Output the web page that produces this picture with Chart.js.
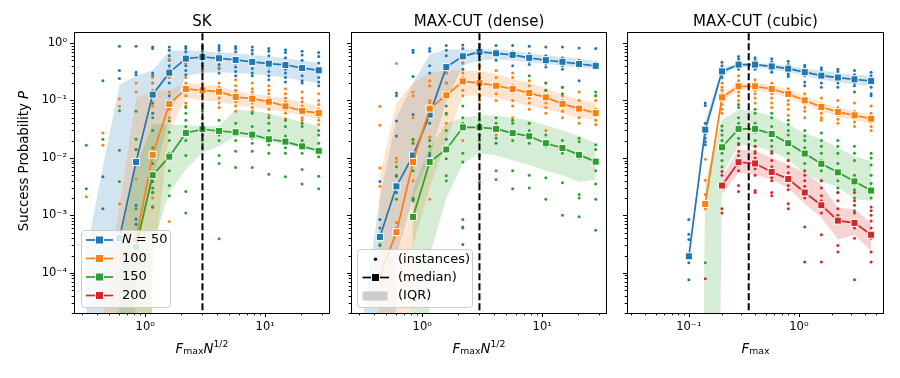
<!DOCTYPE html>
<html>
<head>
<meta charset="utf-8">
<script src="https://cdn.jsdelivr.net/npm/chart.js@4.4.1/dist/chart.umd.min.js"></script>
<style>
  html, body { margin: 0; padding: 0; background: #fff; }
  #wrap { position: relative; width: 900px; height: 378px; }
  #wrap canvas { position: absolute; left: 0; top: 0; }
</style>
</head>
<body>
<div id="wrap">
  <canvas id="skChart" width="900" height="378"></canvas>
  <canvas id="denseChart" width="900" height="378"></canvas>
  <canvas id="cubicChart" width="900" height="378"></canvas>
</div>
<script>
// ---- data ----
const seriesNames = ['N = 50', '100', '150', '200'];
const colors = ['#1f77b4', '#ff7f0e', '#2ca02c', '#d62728'];

const yMajor = [1e-4, 1e-3, 1e-2, 1e-1, 1];
const yLabels = ['10⁻⁴', '10⁻³', '10⁻²', '10⁻¹', '10⁰'];
const scaledXMajor = [1, 10];
const scaledXLabels = ['10⁰', '10¹'];
const cubicXMajor = [0.1, 1];
const cubicXLabels = ['10⁻¹', '10⁰'];

// SK
const skX = [0.323, 0.444, 0.61, 0.839, 1.154, 1.587, 2.18, 3.0, 4.125, 5.67, 7.8, 10.72, 14.74, 20.3, 27.9];
const skVline = 3.0;
const skMedian = [
  [null, null, 4e-4, 0.0085, 0.126, 0.304, 0.533, 0.57, 0.54, 0.506, 0.468, 0.436, 0.414, 0.367, 0.334],
  [null, null, null, 3.8e-4, 0.0113, 0.087, 0.158, 0.15, 0.142, 0.115, 0.107, 0.095, 0.079, 0.066, 0.06],
  [null, null, null, 2.8e-4, 0.005, 0.0105, 0.0272, 0.0315, 0.0294, 0.0279, 0.0254, 0.0211, 0.0192, 0.0159, 0.0133],
  []
];
const skQ3 = [
  [2.3e-4, 0.007, 0.186, 0.27, 0.33, 0.72, 0.75, 0.72, 0.69, 0.66, 0.62, 0.58, 0.54, 0.49, 0.45],
  [0, 1.5e-5, 1.5e-3, 0.11, 0.146, 0.15, 0.2, 0.19, 0.18, 0.146, 0.128, 0.12, 0.107, 0.093, 0.08],
  [0, 0, 3e-4, 0.007, 0.039, 0.038, 0.037, 0.036, 0.036, 0.07, 0.065, 0.06, 0.05, 0.042, 0.036],
  []
];
const skQ1 = [
  [0, 0, 0, 3e-4, 0.004, 0.05, 0.27, 0.3, 0.31, 0.3, 0.29, 0.27, 0.25, 0.22, 0.2],
  [0, 0, 0, 0, 1e-4, 0.03, 0.11, 0.1, 0.095, 0.083, 0.077, 0.07, 0.062, 0.054, 0.048],
  [0, 0, 0, 0, 3e-4, 0.0025, 0.0063, 0.0124, 0.016, 0.024, 0.022, 0.019, 0.017, 0.015, 0.013],
  []
];
const skDots = [
  [[0.0029],[0.22,0.0047,0.0013],[0.88,0.33,0.24],[0.88,0.31,0.28,0.014,0.0015,8.6e-4,7e-4],[0.85,0.8,0.3,0.27,0.2,0.13,0.06,0.0039,0.0025,0.0014],[0.85,0.75,0.6,0.5,0.4,0.35,0.3,0.2,0.12],[0.87,0.8,0.7,0.6,0.5,0.45,0.4,0.33,0.28],[0.88,0.8,0.72,0.62,0.55,0.45,0.4,0.32],[0.9,0.82,0.75,0.62,0.5,0.42,0.36,0.3],[0.87,0.8,0.7,0.55,0.45,0.38,0.32,0.27],[0.85,0.75,0.65,0.5,0.42,0.36,0.3,0.27],[0.8,0.72,0.6,0.45,0.38,0.32,0.27,0.23],[0.76,0.68,0.55,0.42,0.35,0.3,0.25,0.21],[0.72,0.62,0.5,0.4,0.33,0.27,0.22,0.2],[0.68,0.58,0.45,0.36,0.3,0.25,0.21,0.18]],
  [[0.0021],[0.027,0.0166],[0.107,0.079,0.0016],[0.2,0.14,0.0043,4e-4],[0.25,0.2,0.15,0.08,0.03,0.005,0.002],[0.52,0.35,0.25,0.14,0.1,0.07,0.05,7.8e-4],[0.45,0.25,0.2,0.17,0.14,0.12,0.09,0.08],[0.4,0.3,0.2,0.17,0.15,0.12,0.09,0.08],[0.38,0.2,0.17,0.15,0.13,0.11,0.09,0.075],[0.23,0.18,0.15,0.13,0.11,0.095,0.08,0.065],[0.2,0.16,0.14,0.12,0.1,0.09,0.075,0.065],[0.18,0.15,0.13,0.11,0.095,0.085,0.07,0.055],[0.16,0.13,0.11,0.095,0.08,0.07,0.06,0.048],[0.14,0.11,0.095,0.08,0.07,0.06,0.05,0.045],[0.13,0.1,0.085,0.07,0.06,0.052,0.045,0.038]],
  [[0.0166],[0.021],[0.066,0.0136,0.0039],[0.065,0.021,0.014,0.0013],[0.09,0.05,0.03,0.015,0.008,0.005,0.003,0.0025,0.0014],[0.044,0.028,0.02,0.012,0.0105,0.006,0.0033,0.0022],[0.075,0.06,0.045,0.035,0.027,0.02,0.011,0.0026,0.0011],[0.065,0.05,0.04,0.032,0.025,0.02,0.015],[0.045,0.03,0.025,0.02,0.011,0.008,3.9e-4],[0.04,0.03,0.025,0.02,0.013,0.0068],[0.06,0.035,0.028,0.022,0.018,0.013,0.0068],[0.05,0.04,0.03,0.022,0.017,0.012,0.0052],[0.045,0.035,0.024,0.018,0.015,0.012,0.0047],[0.04,0.035,0.02,0.015,0.012,0.0063,0.0035],[0.03,0.025,0.018,0.013,0.0105,0.0048,0.0029]],
  []
];

// MAX-CUT (dense)
const denseX = [0.323, 0.444, 0.61, 0.839, 1.154, 1.587, 2.18, 3.0, 4.125, 5.67, 7.8, 10.72, 14.74, 20.3, 27.9];
const denseVline = 3.0;
const denseMedian = [
  [null, 4.2e-4, 0.0032, 0.011, 0.0566, 0.38, 0.585, 0.70, 0.66, 0.62, 0.55, 0.50, 0.47, 0.43, 0.40],
  [null, 9e-5, 5.1e-4, 0.0085, 0.072, 0.123, 0.215, 0.20, 0.18, 0.158, 0.135, 0.113, 0.087, 0.072, 0.06],
  [null, null, null, 9.4e-4, 0.0085, 0.014, 0.034, 0.034, 0.032, 0.027, 0.0238, 0.018, 0.0149, 0.0113, 0.0086],
  []
];
const denseQ3 = [
  [2e-5, 0.002, 0.05, 0.2, 0.63, 0.77, 0.78, 0.77, 0.76, 0.73, 0.66, 0.61, 0.57, 0.53, 0.49],
  [0, 0.005, 0.09, 0.2, 0.3, 0.33, 0.33, 0.32, 0.29, 0.236, 0.2, 0.165, 0.126, 0.103, 0.09],
  [0, 0, 0, 0.003, 0.015, 0.04, 0.05, 0.056, 0.054, 0.05, 0.045, 0.037, 0.03, 0.024, 0.018],
  []
];
const denseQ1 = [
  [0, 0, 2e-4, 0.002, 0.01, 0.1, 0.4, 0.5, 0.52, 0.5, 0.46, 0.43, 0.4, 0.37, 0.357],
  [0, 0, 0, 3e-4, 0.003, 0.02, 0.12, 0.12, 0.11, 0.095, 0.08, 0.07, 0.06, 0.05, 0.046],
  [0, 0, 0, 0, 2e-4, 0.002, 0.008, 0.012, 0.011, 0.009, 0.0075, 0.006, 0.005, 0.0038, 0.0042],
  []
];
const denseDots = [
  [[],[0.0039,8.5e-4,6e-4,3e-4],[0.135,0.12,0.044,0.024,0.0048,0.0025],[0.75,0.68,0.26,0.057,0.011,0.0019],[0.8,0.72,0.4,0.3,0.06,0.04,0.011],[0.9,0.75,0.6,0.38,0.3,0.2,0.021],[0.92,0.8,0.65,0.55,0.45,0.35,6.3e-4,3.1e-4],[0.95,0.85,0.75,0.68,0.6,0.5,0.011],[0.9,0.75,0.68,0.6,0.5,0.018],[0.9,0.7,0.62,0.55,0.4],[0.88,0.65,0.55,0.48,0.42],[0.85,0.6,0.5,0.44,0.38],[0.85,0.55,0.47,0.4,0.35],[0.82,0.5,0.43,0.38,0.22],[0.8,0.45,0.4,0.36]],
  [[],[0.079,0.037,0.0067,0.0032],[0.44,0.0099,0.0085,7.5e-4,6e-4],[0.14,0.12,0.05,0.02,0.004],[0.22,0.18,0.1,0.09,0.023,0.0019],[0.37,0.3,0.2,0.14,0.11,0.057,0.04],[0.45,0.3,0.25,0.2,0.15,0.12,0.02],[0.4,0.3,0.25,0.2,0.16,0.12,0.1],[0.33,0.25,0.2,0.16,0.13,0.1,0.025],[0.3,0.25,0.18,0.14,0.1,0.08,0.05],[0.22,0.18,0.14,0.11,0.09,0.07,0.04],[0.2,0.15,0.12,0.09,0.075,0.06,0.03],[0.17,0.12,0.1,0.08,0.065,0.05],[0.14,0.1,0.08,0.065,0.05,0.04],[0.12,0.1,0.07,0.055,0.045,0.038]],
  [[],[3.1e-4],[0.007,0.005,0.0019],[0.021,0.018,0.006,0.002,0.0018],[0.06,0.02,0.016,0.012,0.008],[0.08,0.06,0.03,0.0097,0.0049,0.004],[0.08,0.05,0.04,0.012,0.0085,8.5e-4,6e-4],[0.06,0.045,0.035,0.025,0.02,0.0038],[0.05,0.04,0.03,0.022,0.006,0.0042],[0.045,0.04,0.028,0.02,0.006,0.0029],[0.27,0.04,0.03,0.022,0.018,0.005,0.003],[0.2,0.15,0.025,0.02,0.016,0.0045,0.0019],[0.17,0.13,0.02,0.016,0.012,0.0037,0.001],[0.022,0.019,0.01,0.0023,0.002,9.5e-4],[0.14,0.12,0.017,0.014,0.006,0.0035,0.0019,5.5e-4]],
  []
];

// MAX-CUT (cubic)
const cubicX = [0.1, 0.141, 0.2, 0.283, 0.4, 0.566, 0.8, 1.13, 1.6, 2.26, 3.2, 4.53];
const cubicVline = 0.35;
const cubicMedian = [
  [1.94e-4, 0.031, 0.32, 0.42, 0.42, 0.39, 0.357, 0.31, 0.27, 0.25, 0.233, 0.218],
  [null, 1.58e-3, 0.113, 0.176, 0.176, 0.158, 0.13, 0.1, 0.077, 0.063, 0.055, 0.048],
  [null, null, 0.0153, 0.032, 0.032, 0.026, 0.018, 0.0119, 0.0079, 0.0056, 0.0039, 0.0027],
  [null, null, 0.0033, 0.0084, 0.008, 0.0057, 0.0043, 0.0025, 0.0015, 8.1e-4, 7.4e-4, 4.6e-4]
];
const cubicQ3 = [
  [2.2e-4, 0.045, 0.36, 0.45, 0.45, 0.43, 0.4, 0.36, 0.33, 0.3, 0.28, 0.27],
  [0, 0.002, 0.13, 0.205, 0.205, 0.185, 0.155, 0.12, 0.093, 0.075, 0.065, 0.057],
  [0, 0.004, 0.046, 0.069, 0.065, 0.053, 0.038, 0.027, 0.021, 0.015, 0.0107, 0.0088],
  [null, null, 0.0045, 0.014, 0.0133, 0.0101, 0.0077, 0.0055, 0.0034, 0.00135, 0.00128, 7.4e-4]
];
const cubicQ1 = [
  [1.7e-4, 0.025, 0.28, 0.38, 0.38, 0.35, 0.31, 0.27, 0.23, 0.21, 0.19, 0.18],
  [0, 0.0013, 0.1, 0.148, 0.15, 0.135, 0.11, 0.085, 0.065, 0.053, 0.045, 0.039],
  [0, 0, 0.005, 0.017, 0.016, 0.013, 0.0095, 0.0053, 0.0039, 0.0031, 0.0019, 0.0018],
  [null, null, 0.0023, 0.0055, 0.0051, 0.0042, 0.003, 0.0016, 9.1e-4, 3.8e-4, 4.6e-4, 2.4e-4]
];
const cubicDots = [
  [[8.5e-4,4.7e-4,3.8e-4,1.5e-4,7.6e-5],[0.09,0.082,0.04,0.03,0.026,0.022,0.019,0.017],[0.46,0.4,0.36,0.32,0.3,0.28,0.25],[0.58,0.52,0.45,0.41,0.38,0.35],[0.55,0.5,0.44,0.4,0.37,0.35],[0.53,0.47,0.4,0.37,0.34,0.31],[0.48,0.42,0.36,0.33,0.3,0.28,0.26],[0.41,0.38,0.33,0.3,0.27,0.21,0.18],[0.37,0.34,0.29,0.26,0.2,0.17],[0.35,0.32,0.27,0.24,0.2,0.17],[0.33,0.28,0.24,0.2,0.18,0.14],[0.31,0.27,0.22,0.2,0.17,0.13,0.12]],
  [[],[0.0095,0.0041,0.0023,0.0016,0.0013],[0.2,0.17,0.15,0.13,0.12,0.1,0.085,0.07,0.06],[0.27,0.22,0.19,0.16,0.14,0.12,0.1],[0.23,0.2,0.17,0.15,0.13,0.11,0.09],[0.2,0.17,0.15,0.13,0.11,0.09,0.075],[0.16,0.14,0.12,0.1,0.085,0.07,0.055],[0.13,0.11,0.09,0.075,0.065,0.05],[0.11,0.085,0.07,0.06,0.05,0.045],[0.1,0.075,0.065,0.055,0.047,0.04],[0.09,0.065,0.055,0.05,0.042,0.035],[0.08,0.06,0.05,0.042,0.035,0.03]],
  [[],[1.5e-4],[0.036,0.03,0.025,0.02,0.012,0.009,0.007],[0.085,0.075,0.05,0.04,0.03,0.022,0.018],[0.07,0.06,0.04,0.035,0.028,0.02,0.016,0.013],[0.06,0.05,0.035,0.028,0.02,0.016,0.013],[0.045,0.038,0.03,0.025,0.018,0.012,0.009],[0.03,0.024,0.02,0.015,0.012,0.008],[0.027,0.02,0.016,0.012,0.009,0.006,0.004],[0.02,0.016,0.012,0.008,0.006,0.004,0.003,0.0025],[0.016,0.012,0.009,0.005,0.0035,0.0028,0.002,0.0012],[0.012,0.01,0.0075,0.005,0.0036,0.003,0.0025,0.002]],
  [[],[7.9e-5],[0.0058,0.005,0.0033,0.0013,0.0011],[0.017,0.013,0.011,0.009,0.0075,0.006,0.0033,0.0026],[0.016,0.012,0.01,0.008,0.0065,0.005,0.0027,0.0025],[0.012,0.009,0.007,0.0057,0.0045,0.004,0.0025,0.0022],[0.009,0.007,0.0055,0.0045,0.004,0.0033,0.0028,0.0016,0.0013],[0.006,0.005,0.004,0.0032,0.0025,0.002,6.3e-4,1.55e-4],[0.004,0.003,0.0022,0.0018,0.0015,0.0011,4.6e-4,1.55e-4],[0.0025,0.0018,0.0013,0.001,8e-4,3e-4,2.3e-4],[0.0025,0.0018,0.0015,0.0011,8e-4,6e-4,4e-4,7.6e-5],[0.0014,0.0012,0.001,8e-4,6e-4,4e-4,2.3e-4,1.55e-4]]
];

// ---- helpers ----
const ZERO = 1e-30;   // P = 0 has no place on a log axis, push it far below
const FONT = '"DejaVu Sans", sans-serif';
const Y_MIN = 2.0e-5, Y_MAX = 1.49;

function rgba(hex, a) {
  const n = parseInt(hex.slice(1), 16);
  return 'rgba(' + (n >> 16) + ',' + ((n >> 8) & 255) + ',' + (n & 255) + ',' + a + ')';
}

function minorTicks(lo, hi) {
  const out = [];
  for (let e = Math.floor(Math.log10(lo)); e <= Math.ceil(Math.log10(hi)); e++) {
    for (let m = 2; m <= 9; m++) {
      const v = m * Math.pow(10, e);
      if (v >= lo && v <= hi) out.push(v);
    }
  }
  return out;
}

function labelFor(majors, labels) {
  return function(v) {
    const k = majors.findIndex(m => Math.abs(m - v) < m * 1e-6);
    return k < 0 ? '' : labels[k];
  };
}

function buildDatasets(x, med, q1, q3, dots, vline) {
  const ds = [];
  for (let s = 0; s < 4; s++) {
    if (!q3[s].length) continue;
    const up = [], lo = [];
    x.forEach((xv, i) => {
      if (q3[s][i] == null) return;
      up.push({x: xv, y: q3[s][i] || ZERO});
      lo.push({x: xv, y: q1[s][i] || ZERO});
    });
    ds.push({data: up, fill: '+1', backgroundColor: rgba(colors[s], 0.2), borderWidth: 0, pointRadius: 0, order: 100 - s});
    ds.push({data: lo, fill: false, borderWidth: 0, pointRadius: 0, order: 100 - s});
  }
  for (let s = 0; s < 4; s++) {
    const pts = [];
    dots[s].forEach((col, i) => col.forEach(v => pts.push({x: x[i], y: v})));
    if (!pts.length) continue;
    ds.push({data: pts, showLine: false, pointRadius: 1.5, pointBackgroundColor: colors[s],
             pointBorderWidth: 0, order: 50 - s});
  }
  for (let s = 0; s < 4; s++) {
    const pts = [];
    x.forEach((xv, i) => { if (med[s][i] != null) pts.push({x: xv, y: med[s][i]}); });
    if (!pts.length) continue;
    ds.push({data: pts, borderColor: colors[s], borderWidth: 1.7, pointStyle: 'rect', pointRadius: 5,
             pointBackgroundColor: colors[s], pointBorderColor: '#fff', pointBorderWidth: 1, order: 20 - s});
  }
  ds.push({data: [{x: vline, y: 1e-9}, {x: vline, y: 1e3}], borderColor: '#000', borderWidth: 2,
           borderDash: [7, 3], pointRadius: 0, order: 0});
  return ds;
}

// rich text: pieces of {t, i (italic), s (small), dy (em shift)}
function drawRich(ctx, pieces, x, y, size) {
  const fontOf = p => (p.i ? 'italic ' : '') + (p.s ? size * 0.7 : size) + 'px ' + FONT;
  let w = 0;
  pieces.forEach(p => { ctx.font = fontOf(p); p.w = ctx.measureText(p.t).width; w += p.w; });
  let cx = x - w / 2;
  pieces.forEach(p => {
    ctx.font = fontOf(p);
    ctx.fillText(p.t, cx, y + (p.dy || 0) * size);
    cx += p.w;
  });
}

function drawSquare(ctx, cx, cy, fill) {
  ctx.fillStyle = '#fff';
  ctx.fillRect(cx - 4.5, cy - 4.5, 9, 9);
  ctx.fillStyle = fill;
  ctx.fillRect(cx - 3.5, cy - 3.5, 7, 7);
}

function legendBox(ctx, x, y, w, h) {
  ctx.beginPath();
  ctx.roundRect(x + 0.5, y + 0.5, w, h, 3);
  ctx.fillStyle = 'rgba(255,255,255,0.8)';
  ctx.fill();
  ctx.strokeStyle = '#cccccc';
  ctx.lineWidth = 1;
  ctx.stroke();
}

const panelDecor = {
  id: 'panelDecor',
  afterDraw(chart, args, o) {
    const {ctx, chartArea: a} = chart;
    const xs = chart.scales.x, ys = chart.scales.y;
    ctx.save();
    ctx.fillStyle = '#000';
    ctx.strokeStyle = '#000';

    // spines
    ctx.lineWidth = 1;
    ctx.strokeRect(a.left - 0.5, a.top - 0.5, a.right - a.left + 1, a.bottom - a.top + 1);

    // tick marks
    ctx.beginPath();
    const yMinor = minorTicks(Y_MIN, Y_MAX);
    yMajor.forEach(v => { const p = Math.round(ys.getPixelForValue(v)) + 0.5; ctx.moveTo(a.left - 1, p); ctx.lineTo(a.left - 5, p); });
    yMinor.forEach(v => { const p = Math.round(ys.getPixelForValue(v)) + 0.5; ctx.moveTo(a.left - 1, p); ctx.lineTo(a.left - 3.3, p); });
    o.xMajor.forEach(v => { const p = Math.round(xs.getPixelForValue(v)) + 0.5; ctx.moveTo(p, a.bottom); ctx.lineTo(p, a.bottom + 4); });
    minorTicks(xs.min, xs.max).forEach(v => { const p = Math.round(xs.getPixelForValue(v)) + 0.5; ctx.moveTo(p, a.bottom); ctx.lineTo(p, a.bottom + 2.3); });
    ctx.stroke();

    // title
    ctx.textAlign = 'left';
    ctx.textBaseline = 'alphabetic';
    drawRich(ctx, [{t: o.title}], (a.left + a.right) / 2, 26, 15);

    // x label
    drawRich(ctx, o.xLabel, (a.left + a.right) / 2, 352.5, 13.3);

    // y label
    if (o.yLabel) {
      ctx.save();
      ctx.translate(28, 161);
      ctx.rotate(-Math.PI / 2);
      drawRich(ctx, [{t: 'Success Probability '}, {t: 'P', i: 1}], 0, 0, 13.3);
      ctx.restore();
    }

    // legends
    ctx.textBaseline = 'middle';
    if (o.legend === 'series') {
      legendBox(ctx, 81, 230, 89, 77);
      const rows = [240, 258.5, 277, 295.5];
      seriesNames.forEach((name, s) => {
        const y = rows[s];
        ctx.strokeStyle = colors[s];
        ctx.lineWidth = 1.7;
        ctx.beginPath(); ctx.moveTo(86, y); ctx.lineTo(113, y); ctx.stroke();
        drawSquare(ctx, 99.5, y, colors[s]);
        ctx.fillStyle = '#000';
        if (s === 0) {
          ctx.font = 'italic 13px ' + FONT;
          ctx.fillText('N', 122, y);
          const w = ctx.measureText('N').width;
          ctx.font = '13px ' + FONT;
          ctx.fillText(' = 50', 122 + w, y);
        } else {
          ctx.font = '13px ' + FONT;
          ctx.fillText(name, 122, y);
        }
      });
    } else if (o.legend === 'kind') {
      legendBox(ctx, 357, 249, 115, 58);
      ctx.fillStyle = '#000';
      ctx.beginPath(); ctx.arc(375.5, 259.3, 1.7, 0, Math.PI * 2); ctx.fill();
      ctx.strokeStyle = '#000'; ctx.lineWidth = 1.7;
      ctx.beginPath(); ctx.moveTo(362.5, 277.5); ctx.lineTo(389, 277.5); ctx.stroke();
      drawSquare(ctx, 375.5, 277.5, '#000');
      ctx.fillStyle = '#cccccc';
      ctx.fillRect(362.5, 291.5, 25, 9);
      ctx.fillStyle = '#000';
      ctx.font = '13px ' + FONT;
      ctx.fillText('(instances)', 398, 259.3);
      ctx.fillText('(median)', 398, 277.5);
      ctx.fillText('(IQR)', 398, 296);
    }
    ctx.restore();
  }
};

function makePanel(canvasId, p) {
  const tickFont = {family: FONT, size: 11.5};
  const yMinor = minorTicks(Y_MIN, Y_MAX);
  const xMinor = minorTicks(p.xMin, p.xMax);
  return new Chart(document.getElementById(canvasId).getContext('2d'), {
    type: 'line',
    data: {datasets: buildDatasets(p.x, p.med, p.q1, p.q3, p.dots, p.vline)},
    options: {
      responsive: false,
      animation: false,
      events: [],
      elements: {line: {tension: 0}},
      layout: {padding: {left: 0, right: 900 - p.right, top: 33, bottom: 0}},
      plugins: {
        legend: {display: false},
        tooltip: {enabled: false},
        panelDecor: {title: p.title, xLabel: p.xLabel, xMajor: p.xMajor, yLabel: p.yLabel, legend: p.legend}
      },
      scales: {
        x: {
          type: 'logarithmic', min: p.xMin, max: p.xMax,
          afterFit: s => { s.height = 65; s.paddingLeft = 0; s.paddingRight = 0; },
          afterBuildTicks: s => { s.ticks = p.xMajor.concat(xMinor).sort((a, b) => a - b).map(v => ({value: v})); },
          grid: {display: false, tickLength: 4},
          border: {display: false},
          ticks: {callback: labelFor(p.xMajor, p.xLabels), autoSkip: false, maxRotation: 0,
                  font: tickFont, color: '#000', padding: 3}
        },
        y: {
          type: 'logarithmic', min: Y_MIN, max: Y_MAX,
          afterFit: s => { s.width = p.left; s.paddingTop = 0; s.paddingBottom = 0; },
          afterBuildTicks: s => { s.ticks = yMajor.concat(yMinor).sort((a, b) => a - b).map(v => ({value: v})); },
          grid: {display: false, tickLength: 4},
          border: {display: false},
          ticks: {display: p.yLabel, callback: labelFor(yMajor, yLabels), autoSkip: false,
                  font: tickFont, color: '#000', padding: 4}
        }
      }
    },
    plugins: [panelDecor]
  });
}

const scaledLabel = [{t: 'F', i: 1}, {t: 'max', s: 1, dy: 0.15}, {t: 'N', i: 1}, {t: '1/2', s: 1, dy: -0.45}];

makePanel('skChart', {
  title: 'SK', left: 75, right: 329, xMin: 0.26, xMax: 34,
  x: skX, med: skMedian, q1: skQ1, q3: skQ3, dots: skDots, vline: skVline,
  xMajor: scaledXMajor, xLabels: scaledXLabels, xLabel: scaledLabel, yLabel: true, legend: 'series'
});
makePanel('denseChart', {
  title: 'MAX-CUT (dense)', left: 352, right: 606, xMin: 0.26, xMax: 34,
  x: denseX, med: denseMedian, q1: denseQ1, q3: denseQ3, dots: denseDots, vline: denseVline,
  xMajor: scaledXMajor, xLabels: scaledXLabels, xLabel: scaledLabel, yLabel: false, legend: 'kind'
});
makePanel('cubicChart', {
  title: 'MAX-CUT (cubic)', left: 628, right: 883, xMin: 0.028, xMax: 5.81,
  x: cubicX, med: cubicMedian, q1: cubicQ1, q3: cubicQ3, dots: cubicDots, vline: cubicVline,
  xMajor: cubicXMajor, xLabels: cubicXLabels, xLabel: [{t: 'F', i: 1}, {t: 'max', s: 1, dy: 0.15}],
  yLabel: false, legend: null
});
</script>
</body>
</html>
